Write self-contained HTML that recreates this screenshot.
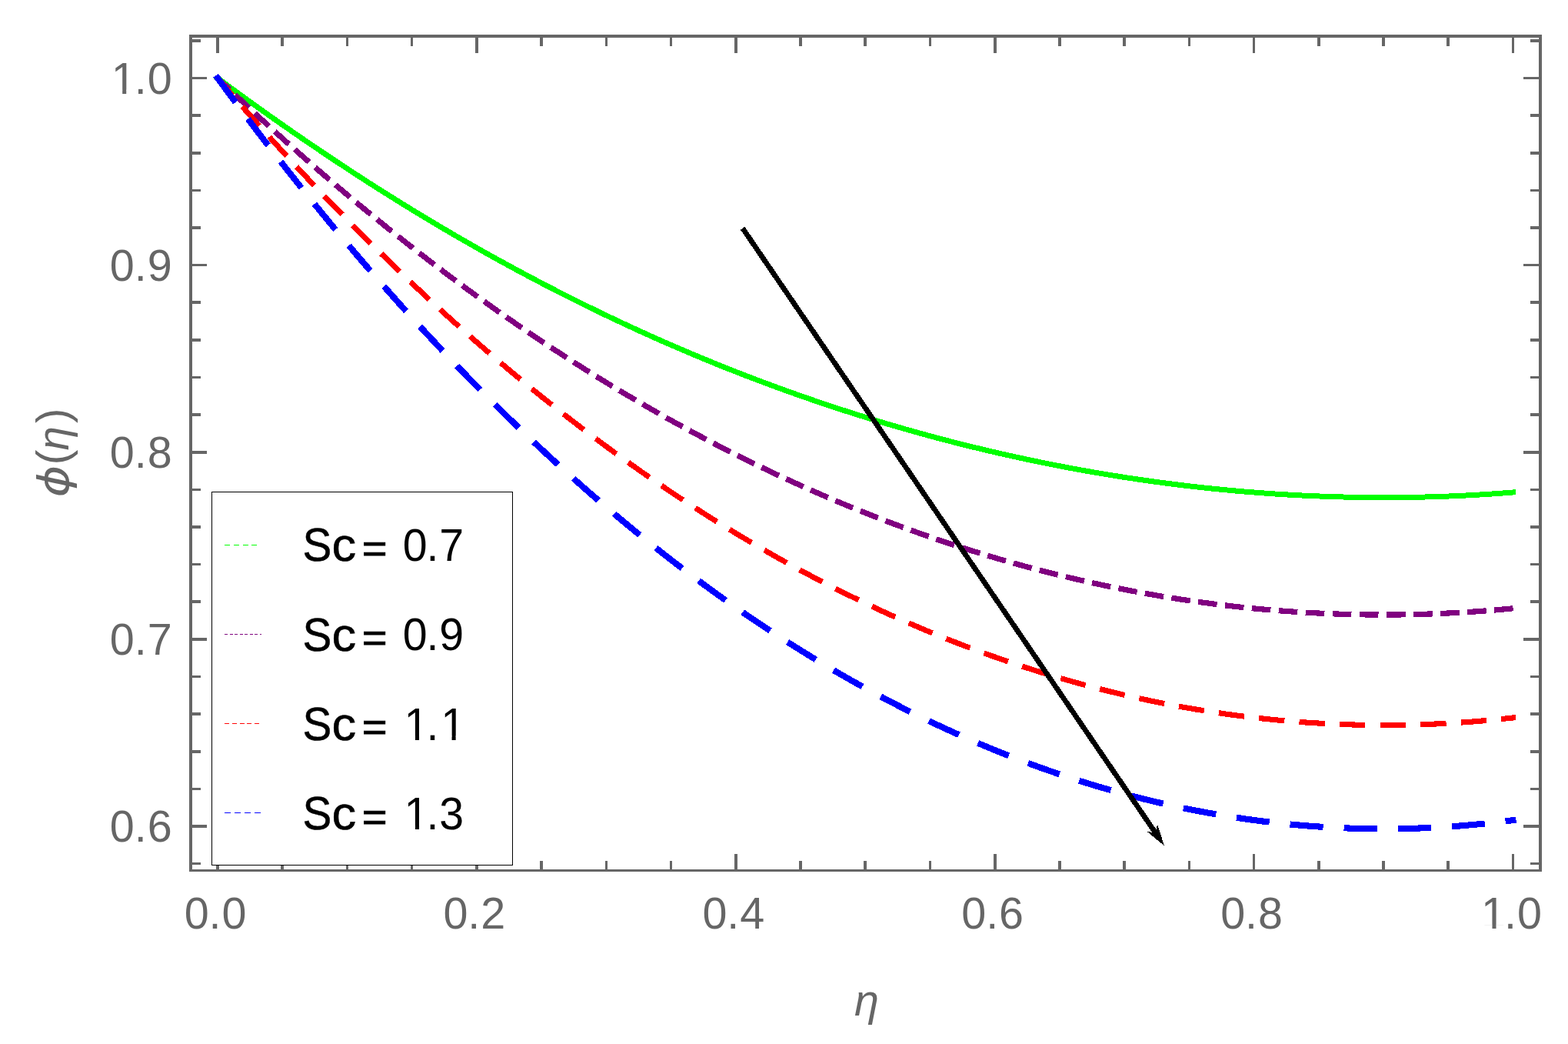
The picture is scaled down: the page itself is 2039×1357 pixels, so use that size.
<!DOCTYPE html>
<html lang="en"><head><meta charset="utf-8"><title>Concentration profile for Schmidt number</title>
<style>html,body{margin:0;padding:0;background:#fff;overflow:hidden}svg{display:block}text{font-family:"Liberation Sans",sans-serif}.t{fill:#666666}.l{fill:#000}.i{font-style:italic}</style></head><body>
<svg width="2039" height="1357" viewBox="0 0 2039 1357" role="img" aria-label="Plot of concentration profile versus eta for Sc = 0.7, 0.9, 1.1, 1.3">
<rect width="2039" height="1357" fill="#fff"/>
<g shape-rendering="crispEdges">
<polyline points="283.00,101.50 287.21,104.62 291.42,107.72 295.63,110.82 299.85,113.91 304.06,116.99 308.27,120.07 312.48,123.13 316.69,126.19 320.90,129.23 325.11,132.27 329.32,135.30 333.53,138.32 337.75,141.33 341.96,144.33 346.17,147.32 350.38,150.31 354.59,153.28 358.80,156.25 363.01,159.21 367.23,162.15 371.44,165.09 375.65,168.02 379.86,170.94 384.07,173.85 388.28,176.76 392.49,179.65 396.70,182.54 400.92,185.41 405.13,188.28 409.34,191.13 413.55,193.98 417.76,196.82 421.97,199.65 426.18,202.47 430.39,205.28 434.61,208.08 438.82,210.87 443.03,213.66 447.24,216.43 451.45,219.20 455.66,221.95 459.87,224.70 464.08,227.43 468.29,230.16 472.51,232.88 476.72,235.59 480.93,238.29 485.14,240.98 489.35,243.66 493.56,246.33 497.77,248.99 501.99,251.64 506.20,254.29 510.41,256.92 514.62,259.55 518.83,262.16 523.04,264.77 527.25,267.36 531.46,269.95 535.67,272.53 539.89,275.10 544.10,277.65 548.31,280.20 552.52,282.74 556.73,285.27 560.94,287.80 565.15,290.31 569.37,292.81 573.58,295.30 577.79,297.79 582.00,300.26 586.21,302.72 590.42,305.18 594.63,307.63 598.84,310.06 603.06,312.49 607.27,314.91 611.48,317.31 615.69,319.71 619.90,322.10 624.11,324.48 628.32,326.85 632.53,329.21 636.75,331.57 640.96,333.91 645.17,336.24 649.38,338.56 653.59,340.88 657.80,343.18 662.01,345.48 666.22,347.76 670.43,350.04 674.65,352.31 678.86,354.57 683.07,356.81 687.28,359.05 691.49,361.28 695.70,363.50 699.91,365.71 704.12,367.92 708.34,370.11 712.55,372.29 716.76,374.47 720.97,376.63 725.18,378.79 729.39,380.93 733.60,383.07 737.82,385.20 742.03,387.31 746.24,389.42 750.45,391.52 754.66,393.61 758.87,395.69 763.08,397.76 767.29,399.83 771.50,401.88 775.72,403.92 779.93,405.96 784.14,407.98 788.35,410.00 792.56,412.01 796.77,414.01 800.98,415.99 805.20,417.97 809.41,419.94 813.62,421.91 817.83,423.86 822.04,425.80 826.25,427.74 830.46,429.66 834.67,431.58 838.88,433.48 843.10,435.38 847.31,437.27 851.52,439.15 855.73,441.02 859.94,442.88 864.15,444.73 868.36,446.58 872.58,448.41 876.79,450.23 881.00,452.05 885.21,453.86 889.42,455.66 893.63,457.45 897.84,459.23 902.05,461.00 906.26,462.76 910.48,464.51 914.69,466.26 918.90,467.99 923.11,469.72 927.32,471.44 931.53,473.15 935.74,474.84 939.96,476.54 944.17,478.22 948.38,479.89 952.59,481.56 956.80,483.21 961.01,484.86 965.22,486.50 969.43,488.13 973.65,489.75 977.86,491.36 982.07,492.96 986.28,494.55 990.49,496.14 994.70,497.72 998.91,499.28 1003.12,500.84 1007.34,502.39 1011.55,503.94 1015.76,505.47 1019.97,506.99 1024.18,508.51 1028.39,510.01 1032.60,511.51 1036.81,513.00 1041.03,514.48 1045.24,515.96 1049.45,517.42 1053.66,518.88 1057.87,520.32 1062.08,521.76 1066.29,523.19 1070.50,524.61 1074.72,526.02 1078.93,527.43 1083.14,528.82 1087.35,530.21 1091.56,531.59 1095.77,532.96 1099.98,534.32 1104.19,535.67 1108.40,537.01 1112.62,538.35 1116.83,539.68 1121.04,540.99 1125.25,542.30 1129.46,543.61 1133.67,544.90 1137.88,546.18 1142.10,547.46 1146.31,548.73 1150.52,549.99 1154.73,551.24 1158.94,552.48 1163.15,553.72 1167.36,554.94 1171.57,556.16 1175.79,557.37 1180.00,558.57 1184.21,559.77 1188.42,560.95 1192.63,562.13 1196.84,563.29 1201.05,564.45 1205.26,565.60 1209.47,566.75 1213.69,567.88 1217.90,569.01 1222.11,570.13 1226.32,571.24 1230.53,572.34 1234.74,573.43 1238.95,574.52 1243.16,575.59 1247.38,576.66 1251.59,577.72 1255.80,578.77 1260.01,579.82 1264.22,580.85 1268.43,581.88 1272.64,582.90 1276.86,583.91 1281.07,584.92 1285.28,585.91 1289.49,586.90 1293.70,587.88 1297.91,588.85 1302.12,589.81 1306.33,590.76 1310.55,591.71 1314.76,592.65 1318.97,593.58 1323.18,594.50 1327.39,595.41 1331.60,596.32 1335.81,597.21 1340.02,598.10 1344.23,598.98 1348.45,599.86 1352.66,600.72 1356.87,601.58 1361.08,602.43 1365.29,603.27 1369.50,604.10 1373.71,604.92 1377.92,605.74 1382.14,606.55 1386.35,607.35 1390.56,608.14 1394.77,608.93 1398.98,609.70 1403.19,610.47 1407.40,611.23 1411.62,611.98 1415.83,612.73 1420.04,613.46 1424.25,614.19 1428.46,614.91 1432.67,615.62 1436.88,616.32 1441.09,617.02 1445.31,617.71 1449.52,618.39 1453.73,619.06 1457.94,619.72 1462.15,620.38 1466.36,621.03 1470.57,621.66 1474.78,622.30 1478.99,622.92 1483.21,623.53 1487.42,624.14 1491.63,624.74 1495.84,625.33 1500.05,625.92 1504.26,626.49 1508.47,627.06 1512.68,627.62 1516.90,628.17 1521.11,628.71 1525.32,629.25 1529.53,629.77 1533.74,630.29 1537.95,630.80 1542.16,631.31 1546.38,631.80 1550.59,632.29 1554.80,632.77 1559.01,633.24 1563.22,633.70 1567.43,634.16 1571.64,634.60 1575.85,635.04 1580.07,635.47 1584.28,635.89 1588.49,636.31 1592.70,636.72 1596.91,637.11 1601.12,637.50 1605.33,637.89 1609.54,638.26 1613.76,638.63 1617.97,638.98 1622.18,639.33 1626.39,639.68 1630.60,640.01 1634.81,640.34 1639.02,640.65 1643.23,640.96 1647.45,641.26 1651.66,641.56 1655.87,641.84 1660.08,642.12 1664.29,642.39 1668.50,642.65 1672.71,642.90 1676.92,643.15 1681.14,643.38 1685.35,643.61 1689.56,643.83 1693.77,644.04 1697.98,644.25 1702.19,644.44 1706.40,644.63 1710.61,644.81 1714.83,644.98 1719.04,645.14 1723.25,645.30 1727.46,645.45 1731.67,645.58 1735.88,645.71 1740.09,645.84 1744.30,645.95 1748.52,646.06 1752.73,646.15 1756.94,646.24 1761.15,646.32 1765.36,646.39 1769.57,646.46 1773.78,646.51 1777.99,646.56 1782.20,646.60 1786.42,646.63 1790.63,646.65 1794.84,646.67 1799.05,646.67 1803.26,646.67 1807.47,646.66 1811.68,646.64 1815.89,646.62 1820.11,646.58 1824.32,646.54 1828.53,646.48 1832.74,646.42 1836.95,646.35 1841.16,646.27 1845.37,646.19 1849.59,646.09 1853.80,645.99 1858.01,645.88 1862.22,645.76 1866.43,645.63 1870.64,645.49 1874.85,645.35 1879.06,645.19 1883.28,645.03 1887.49,644.86 1891.70,644.68 1895.91,644.49 1900.12,644.30 1904.33,644.09 1908.54,643.88 1912.75,643.65 1916.96,643.42 1921.18,643.18 1925.39,642.94 1929.60,642.68 1933.81,642.41 1938.02,642.14 1942.23,641.86 1946.44,641.57 1950.65,641.27 1954.87,640.96 1959.08,640.64 1963.29,640.31 1967.50,639.98" fill="none" stroke="#00ff00" stroke-width="7.0" stroke-linecap="square" stroke-linejoin="round"/>
<polyline points="283.00,101.50 287.21,105.54 291.42,109.57 295.63,113.58 299.85,117.58 304.06,121.57 308.27,125.55 312.48,129.51 316.69,133.46 320.90,137.39 325.11,141.32 329.32,145.23 333.53,149.13 337.75,153.01 341.96,156.89 346.17,160.75 350.38,164.59 354.59,168.43 358.80,172.25 363.01,176.06 367.23,179.86 371.44,183.64 375.65,187.41 379.86,191.17 384.07,194.92 388.28,198.65 392.49,202.37 396.70,206.08 400.92,209.77 405.13,213.46 409.34,217.13 413.55,220.78 417.76,224.43 421.97,228.06 426.18,231.68 430.39,235.29 434.61,238.88 438.82,242.47 443.03,246.04 447.24,249.59 451.45,253.14 455.66,256.67 459.87,260.19 464.08,263.70 468.29,267.19 472.51,270.67 476.72,274.14 480.93,277.60 485.14,281.05 489.35,284.48 493.56,287.90 497.77,291.31 501.99,294.70 506.20,298.09 510.41,301.46 514.62,304.82 518.83,308.16 523.04,311.50 527.25,314.82 531.46,318.13 535.67,321.43 539.89,324.71 544.10,327.98 548.31,331.24 552.52,334.49 556.73,337.73 560.94,340.95 565.15,344.16 569.37,347.36 573.58,350.55 577.79,353.72 582.00,356.89 586.21,360.04 590.42,363.18 594.63,366.30 598.84,369.42 603.06,372.52 607.27,375.61 611.48,378.69 615.69,381.75 619.90,384.81 624.11,387.85 628.32,390.88 632.53,393.90 636.75,396.90 640.96,399.90 645.17,402.88 649.38,405.85 653.59,408.80 657.80,411.75 662.01,414.68 666.22,417.61 670.43,420.52 674.65,423.41 678.86,426.30 683.07,429.17 687.28,432.04 691.49,434.89 695.70,437.73 699.91,440.55 704.12,443.37 708.34,446.17 712.55,448.96 716.76,451.74 720.97,454.51 725.18,457.26 729.39,460.01 733.60,462.74 737.82,465.46 742.03,468.17 746.24,470.86 750.45,473.55 754.66,476.22 758.87,478.88 763.08,481.53 767.29,484.17 771.50,486.80 775.72,489.41 779.93,492.02 784.14,494.61 788.35,497.19 792.56,499.76 796.77,502.31 800.98,504.86 805.20,507.39 809.41,509.91 813.62,512.42 817.83,514.92 822.04,517.41 826.25,519.88 830.46,522.35 834.67,524.80 838.88,527.24 843.10,529.67 847.31,532.09 851.52,534.49 855.73,536.89 859.94,539.27 864.15,541.64 868.36,544.00 872.58,546.35 876.79,548.69 881.00,551.01 885.21,553.33 889.42,555.63 893.63,557.92 897.84,560.20 902.05,562.47 906.26,564.73 910.48,566.98 914.69,569.21 918.90,571.44 923.11,573.65 927.32,575.85 931.53,578.04 935.74,580.22 939.96,582.38 944.17,584.54 948.38,586.68 952.59,588.82 956.80,590.94 961.01,593.05 965.22,595.15 969.43,597.24 973.65,599.31 977.86,601.38 982.07,603.43 986.28,605.48 990.49,607.51 994.70,609.53 998.91,611.54 1003.12,613.54 1007.34,615.53 1011.55,617.50 1015.76,619.47 1019.97,621.42 1024.18,623.36 1028.39,625.30 1032.60,627.22 1036.81,629.13 1041.03,631.03 1045.24,632.91 1049.45,634.79 1053.66,636.65 1057.87,638.51 1062.08,640.35 1066.29,642.18 1070.50,644.01 1074.72,645.82 1078.93,647.62 1083.14,649.40 1087.35,651.18 1091.56,652.95 1095.77,654.70 1099.98,656.45 1104.19,658.18 1108.40,659.90 1112.62,661.61 1116.83,663.31 1121.04,665.00 1125.25,666.68 1129.46,668.35 1133.67,670.01 1137.88,671.65 1142.10,673.29 1146.31,674.91 1150.52,676.53 1154.73,678.13 1158.94,679.72 1163.15,681.30 1167.36,682.87 1171.57,684.43 1175.79,685.98 1180.00,687.52 1184.21,689.04 1188.42,690.56 1192.63,692.07 1196.84,693.56 1201.05,695.04 1205.26,696.52 1209.47,697.98 1213.69,699.43 1217.90,700.87 1222.11,702.30 1226.32,703.72 1230.53,705.13 1234.74,706.53 1238.95,707.91 1243.16,709.29 1247.38,710.66 1251.59,712.01 1255.80,713.35 1260.01,714.69 1264.22,716.01 1268.43,717.32 1272.64,718.62 1276.86,719.92 1281.07,721.20 1285.28,722.47 1289.49,723.72 1293.70,724.97 1297.91,726.21 1302.12,727.44 1306.33,728.65 1310.55,729.86 1314.76,731.06 1318.97,732.24 1323.18,733.42 1327.39,734.58 1331.60,735.73 1335.81,736.87 1340.02,738.01 1344.23,739.13 1348.45,740.24 1352.66,741.34 1356.87,742.43 1361.08,743.51 1365.29,744.58 1369.50,745.64 1373.71,746.68 1377.92,747.72 1382.14,748.75 1386.35,749.76 1390.56,750.77 1394.77,751.76 1398.98,752.75 1403.19,753.72 1407.40,754.69 1411.62,755.64 1415.83,756.58 1420.04,757.52 1424.25,758.44 1428.46,759.35 1432.67,760.25 1436.88,761.14 1441.09,762.02 1445.31,762.89 1449.52,763.75 1453.73,764.60 1457.94,765.44 1462.15,766.27 1466.36,767.09 1470.57,767.89 1474.78,768.69 1478.99,769.48 1483.21,770.25 1487.42,771.02 1491.63,771.77 1495.84,772.52 1500.05,773.25 1504.26,773.98 1508.47,774.69 1512.68,775.40 1516.90,776.09 1521.11,776.77 1525.32,777.44 1529.53,778.11 1533.74,778.76 1537.95,779.40 1542.16,780.03 1546.38,780.65 1550.59,781.26 1554.80,781.86 1559.01,782.45 1563.22,783.03 1567.43,783.60 1571.64,784.16 1575.85,784.71 1580.07,785.25 1584.28,785.78 1588.49,786.29 1592.70,786.80 1596.91,787.30 1601.12,787.79 1605.33,788.26 1609.54,788.73 1613.76,789.18 1617.97,789.63 1622.18,790.06 1626.39,790.49 1630.60,790.90 1634.81,791.31 1639.02,791.70 1643.23,792.09 1647.45,792.46 1651.66,792.82 1655.87,793.18 1660.08,793.52 1664.29,793.85 1668.50,794.17 1672.71,794.49 1676.92,794.79 1681.14,795.08 1685.35,795.36 1689.56,795.63 1693.77,795.89 1697.98,796.14 1702.19,796.38 1706.40,796.61 1710.61,796.83 1714.83,797.04 1719.04,797.24 1723.25,797.43 1727.46,797.61 1731.67,797.78 1735.88,797.93 1740.09,798.08 1744.30,798.22 1748.52,798.35 1752.73,798.46 1756.94,798.57 1761.15,798.67 1765.36,798.75 1769.57,798.83 1773.78,798.89 1777.99,798.95 1782.20,799.00 1786.42,799.03 1790.63,799.05 1794.84,799.07 1799.05,799.07 1803.26,799.07 1807.47,799.05 1811.68,799.02 1815.89,798.99 1820.11,798.94 1824.32,798.88 1828.53,798.81 1832.74,798.74 1836.95,798.65 1841.16,798.55 1845.37,798.44 1849.59,798.32 1853.80,798.19 1858.01,798.05 1862.22,797.90 1866.43,797.74 1870.64,797.57 1874.85,797.39 1879.06,797.20 1883.28,796.99 1887.49,796.78 1891.70,796.56 1895.91,796.33 1900.12,796.08 1904.33,795.83 1908.54,795.57 1912.75,795.29 1916.96,795.01 1921.18,794.71 1925.39,794.41 1929.60,794.09 1933.81,793.77 1938.02,793.43 1942.23,793.09 1946.44,792.73 1950.65,792.36 1954.87,791.98 1959.08,791.60 1963.29,791.20 1967.50,790.79" fill="none" stroke="#800080" stroke-width="7.2" stroke-linecap="square" stroke-linejoin="round" stroke-dasharray="17.54 17.54"/>
<polyline points="283.00,101.50 287.21,106.41 291.42,111.31 295.63,116.19 299.85,121.05 304.06,125.90 308.27,130.73 312.48,135.54 316.69,140.34 320.90,145.12 325.11,149.89 329.32,154.64 333.53,159.37 337.75,164.09 341.96,168.79 346.17,173.48 350.38,178.15 354.59,182.81 358.80,187.44 363.01,192.07 367.23,196.67 371.44,201.27 375.65,205.84 379.86,210.40 384.07,214.94 388.28,219.47 392.49,223.98 396.70,228.48 400.92,232.96 405.13,237.43 409.34,241.88 413.55,246.31 417.76,250.73 421.97,255.13 426.18,259.52 430.39,263.89 434.61,268.25 438.82,272.59 443.03,276.91 447.24,281.22 451.45,285.52 455.66,289.79 459.87,294.06 464.08,298.30 468.29,302.54 472.51,306.75 476.72,310.95 480.93,315.14 485.14,319.31 489.35,323.47 493.56,327.61 497.77,331.73 501.99,335.84 506.20,339.93 510.41,344.01 514.62,348.08 518.83,352.12 523.04,356.16 527.25,360.18 531.46,364.18 535.67,368.17 539.89,372.14 544.10,376.10 548.31,380.04 552.52,383.97 556.73,387.88 560.94,391.78 565.15,395.66 569.37,399.52 573.58,403.38 577.79,407.21 582.00,411.04 586.21,414.84 590.42,418.63 594.63,422.41 598.84,426.17 603.06,429.92 607.27,433.65 611.48,437.37 615.69,441.08 619.90,444.76 624.11,448.44 628.32,452.10 632.53,455.74 636.75,459.37 640.96,462.98 645.17,466.58 649.38,470.17 653.59,473.74 657.80,477.29 662.01,480.83 666.22,484.36 670.43,487.87 674.65,491.37 678.86,494.85 683.07,498.32 687.28,501.77 691.49,505.21 695.70,508.63 699.91,512.04 704.12,515.44 708.34,518.82 712.55,522.19 716.76,525.54 720.97,528.87 725.18,532.20 729.39,535.50 733.60,538.80 737.82,542.08 742.03,545.34 746.24,548.59 750.45,551.83 754.66,555.05 758.87,558.26 763.08,561.45 767.29,564.63 771.50,567.80 775.72,570.95 779.93,574.08 784.14,577.21 788.35,580.32 792.56,583.41 796.77,586.49 800.98,589.55 805.20,592.61 809.41,595.64 813.62,598.67 817.83,601.67 822.04,604.67 826.25,607.65 830.46,610.62 834.67,613.57 838.88,616.51 843.10,619.43 847.31,622.34 851.52,625.24 855.73,628.12 859.94,630.99 864.15,633.84 868.36,636.69 872.58,639.51 876.79,642.32 881.00,645.12 885.21,647.91 889.42,650.68 893.63,653.44 897.84,656.18 902.05,658.91 906.26,661.63 910.48,664.33 914.69,667.02 918.90,669.69 923.11,672.35 927.32,675.00 931.53,677.63 935.74,680.25 939.96,682.86 944.17,685.45 948.38,688.03 952.59,690.59 956.80,693.14 961.01,695.68 965.22,698.20 969.43,700.71 973.65,703.21 977.86,705.69 982.07,708.16 986.28,710.61 990.49,713.06 994.70,715.49 998.91,717.90 1003.12,720.30 1007.34,722.69 1011.55,725.06 1015.76,727.42 1019.97,729.77 1024.18,732.11 1028.39,734.43 1032.60,736.73 1036.81,739.03 1041.03,741.31 1045.24,743.57 1049.45,745.83 1053.66,748.07 1057.87,750.29 1062.08,752.51 1066.29,754.70 1070.50,756.89 1074.72,759.06 1078.93,761.22 1083.14,763.37 1087.35,765.50 1091.56,767.62 1095.77,769.73 1099.98,771.82 1104.19,773.90 1108.40,775.97 1112.62,778.02 1116.83,780.06 1121.04,782.09 1125.25,784.11 1129.46,786.11 1133.67,788.09 1137.88,790.07 1142.10,792.03 1146.31,793.98 1150.52,795.91 1154.73,797.83 1158.94,799.74 1163.15,801.64 1167.36,803.52 1171.57,805.39 1175.79,807.25 1180.00,809.09 1184.21,810.92 1188.42,812.74 1192.63,814.54 1196.84,816.33 1201.05,818.11 1205.26,819.88 1209.47,821.63 1213.69,823.37 1217.90,825.10 1222.11,826.81 1226.32,828.51 1230.53,830.20 1234.74,831.87 1238.95,833.53 1243.16,835.18 1247.38,836.82 1251.59,838.44 1255.80,840.05 1260.01,841.65 1264.22,843.23 1268.43,844.80 1272.64,846.36 1276.86,847.91 1281.07,849.44 1285.28,850.96 1289.49,852.47 1293.70,853.96 1297.91,855.44 1302.12,856.91 1306.33,858.37 1310.55,859.81 1314.76,861.24 1318.97,862.66 1323.18,864.07 1327.39,865.46 1331.60,866.84 1335.81,868.20 1340.02,869.56 1344.23,870.90 1348.45,872.23 1352.66,873.54 1356.87,874.85 1361.08,876.14 1365.29,877.42 1369.50,878.68 1373.71,879.94 1377.92,881.18 1382.14,882.40 1386.35,883.62 1390.56,884.82 1394.77,886.01 1398.98,887.19 1403.19,888.35 1407.40,889.50 1411.62,890.64 1415.83,891.77 1420.04,892.89 1424.25,893.99 1428.46,895.08 1432.67,896.15 1436.88,897.22 1441.09,898.27 1445.31,899.31 1449.52,900.33 1453.73,901.35 1457.94,902.35 1462.15,903.34 1466.36,904.32 1470.57,905.28 1474.78,906.23 1478.99,907.17 1483.21,908.10 1487.42,909.01 1491.63,909.91 1495.84,910.80 1500.05,911.68 1504.26,912.55 1508.47,913.40 1512.68,914.24 1516.90,915.07 1521.11,915.88 1525.32,916.68 1529.53,917.47 1533.74,918.25 1537.95,919.02 1542.16,919.77 1546.38,920.51 1550.59,921.24 1554.80,921.96 1559.01,922.66 1563.22,923.35 1567.43,924.03 1571.64,924.70 1575.85,925.35 1580.07,925.99 1584.28,926.62 1588.49,927.24 1592.70,927.85 1596.91,928.44 1601.12,929.02 1605.33,929.59 1609.54,930.14 1613.76,930.69 1617.97,931.22 1622.18,931.74 1626.39,932.25 1630.60,932.74 1634.81,933.22 1639.02,933.69 1643.23,934.15 1647.45,934.60 1651.66,935.03 1655.87,935.45 1660.08,935.86 1664.29,936.26 1668.50,936.64 1672.71,937.02 1676.92,937.38 1681.14,937.72 1685.35,938.06 1689.56,938.38 1693.77,938.70 1697.98,939.00 1702.19,939.28 1706.40,939.56 1710.61,939.82 1714.83,940.07 1719.04,940.31 1723.25,940.54 1727.46,940.75 1731.67,940.95 1735.88,941.14 1740.09,941.32 1744.30,941.49 1748.52,941.64 1752.73,941.78 1756.94,941.91 1761.15,942.03 1765.36,942.13 1769.57,942.22 1773.78,942.30 1777.99,942.37 1782.20,942.43 1786.42,942.47 1790.63,942.50 1794.84,942.52 1799.05,942.53 1803.26,942.53 1807.47,942.51 1811.68,942.48 1815.89,942.44 1820.11,942.39 1824.32,942.33 1828.53,942.25 1832.74,942.16 1836.95,942.06 1841.16,941.95 1845.37,941.82 1849.59,941.68 1853.80,941.53 1858.01,941.37 1862.22,941.20 1866.43,941.01 1870.64,940.82 1874.85,940.61 1879.06,940.38 1883.28,940.15 1887.49,939.90 1891.70,939.65 1895.91,939.38 1900.12,939.09 1904.33,938.80 1908.54,938.49 1912.75,938.17 1916.96,937.84 1921.18,937.50 1925.39,937.15 1929.60,936.78 1933.81,936.40 1938.02,936.01 1942.23,935.61 1946.44,935.19 1950.65,934.76 1954.87,934.33 1959.08,933.87 1963.29,933.41 1967.50,932.94" fill="none" stroke="#ff0000" stroke-width="7.1" stroke-linecap="square" stroke-linejoin="round" stroke-dasharray="26.31 26.31"/>
<polyline points="283.00,101.50 287.21,107.25 291.42,112.98 295.63,118.69 299.85,124.39 304.06,130.06 308.27,135.71 312.48,141.35 316.69,146.96 320.90,152.56 325.11,158.13 329.32,163.69 333.53,169.23 337.75,174.74 341.96,180.24 346.17,185.72 350.38,191.18 354.59,196.62 358.80,202.05 363.01,207.45 367.23,212.83 371.44,218.20 375.65,223.54 379.86,228.87 384.07,234.18 388.28,239.47 392.49,244.74 396.70,249.99 400.92,255.22 405.13,260.44 409.34,265.63 413.55,270.81 417.76,275.96 421.97,281.10 426.18,286.22 430.39,291.32 434.61,296.40 438.82,301.47 443.03,306.51 447.24,311.54 451.45,316.55 455.66,321.54 459.87,326.51 464.08,331.46 468.29,336.39 472.51,341.31 476.72,346.21 480.93,351.08 485.14,355.94 489.35,360.79 493.56,365.61 497.77,370.42 501.99,375.20 506.20,379.97 510.41,384.72 514.62,389.45 518.83,394.17 523.04,398.86 527.25,403.54 531.46,408.20 535.67,412.84 539.89,417.47 544.10,422.07 548.31,426.66 552.52,431.23 556.73,435.78 560.94,440.31 565.15,444.83 569.37,449.33 573.58,453.81 577.79,458.27 582.00,462.71 586.21,467.14 590.42,471.55 594.63,475.94 598.84,480.31 603.06,484.67 607.27,489.00 611.48,493.32 615.69,497.63 619.90,501.91 624.11,506.18 628.32,510.43 632.53,514.66 636.75,518.88 640.96,523.07 645.17,527.25 649.38,531.41 653.59,535.56 657.80,539.69 662.01,543.80 666.22,547.89 670.43,551.96 674.65,556.02 678.86,560.06 683.07,564.09 687.28,568.09 691.49,572.08 695.70,576.05 699.91,580.01 704.12,583.94 708.34,587.86 712.55,591.77 716.76,595.65 720.97,599.52 725.18,603.37 729.39,607.21 733.60,611.03 737.82,614.83 742.03,618.61 746.24,622.38 750.45,626.13 754.66,629.86 758.87,633.58 763.08,637.27 767.29,640.96 771.50,644.62 775.72,648.27 779.93,651.90 784.14,655.52 788.35,659.12 792.56,662.70 796.77,666.26 800.98,669.81 805.20,673.34 809.41,676.86 813.62,680.36 817.83,683.84 822.04,687.31 826.25,690.75 830.46,694.19 834.67,697.60 838.88,701.00 843.10,704.38 847.31,707.75 851.52,711.10 855.73,714.43 859.94,717.75 864.15,721.05 868.36,724.34 872.58,727.60 876.79,730.86 881.00,734.09 885.21,737.31 889.42,740.51 893.63,743.70 897.84,746.87 902.05,750.03 906.26,753.16 910.48,756.29 914.69,759.39 918.90,762.48 923.11,765.56 927.32,768.61 931.53,771.66 935.74,774.68 939.96,777.69 944.17,780.68 948.38,783.66 952.59,786.62 956.80,789.57 961.01,792.50 965.22,795.41 969.43,798.31 973.65,801.19 977.86,804.06 982.07,806.91 986.28,809.74 990.49,812.56 994.70,815.37 998.91,818.15 1003.12,820.92 1007.34,823.68 1011.55,826.42 1015.76,829.14 1019.97,831.85 1024.18,834.55 1028.39,837.22 1032.60,839.89 1036.81,842.53 1041.03,845.16 1045.24,847.78 1049.45,850.38 1053.66,852.96 1057.87,855.53 1062.08,858.08 1066.29,860.62 1070.50,863.14 1074.72,865.65 1078.93,868.14 1083.14,870.61 1087.35,873.07 1091.56,875.52 1095.77,877.95 1099.98,880.36 1104.19,882.76 1108.40,885.14 1112.62,887.51 1116.83,889.86 1121.04,892.20 1125.25,894.52 1129.46,896.83 1133.67,899.12 1137.88,901.40 1142.10,903.66 1146.31,905.91 1150.52,908.14 1154.73,910.35 1158.94,912.55 1163.15,914.74 1167.36,916.91 1171.57,919.06 1175.79,921.20 1180.00,923.33 1184.21,925.44 1188.42,927.53 1192.63,929.61 1196.84,931.68 1201.05,933.73 1205.26,935.76 1209.47,937.78 1213.69,939.79 1217.90,941.78 1222.11,943.75 1226.32,945.71 1230.53,947.66 1234.74,949.59 1238.95,951.50 1243.16,953.40 1247.38,955.29 1251.59,957.16 1255.80,959.02 1260.01,960.86 1264.22,962.68 1268.43,964.50 1272.64,966.29 1276.86,968.07 1281.07,969.84 1285.28,971.59 1289.49,973.33 1293.70,975.05 1297.91,976.76 1302.12,978.46 1306.33,980.13 1310.55,981.80 1314.76,983.45 1318.97,985.08 1323.18,986.70 1327.39,988.31 1331.60,989.90 1335.81,991.48 1340.02,993.04 1344.23,994.58 1348.45,996.12 1352.66,997.63 1356.87,999.14 1361.08,1000.63 1365.29,1002.10 1369.50,1003.56 1373.71,1005.01 1377.92,1006.44 1382.14,1007.85 1386.35,1009.25 1390.56,1010.64 1394.77,1012.01 1398.98,1013.37 1403.19,1014.72 1407.40,1016.04 1411.62,1017.36 1415.83,1018.66 1420.04,1019.95 1424.25,1021.22 1428.46,1022.47 1432.67,1023.72 1436.88,1024.95 1441.09,1026.16 1445.31,1027.36 1449.52,1028.54 1453.73,1029.72 1457.94,1030.87 1462.15,1032.01 1466.36,1033.14 1470.57,1034.25 1474.78,1035.35 1478.99,1036.44 1483.21,1037.51 1487.42,1038.57 1491.63,1039.61 1495.84,1040.64 1500.05,1041.65 1504.26,1042.65 1508.47,1043.63 1512.68,1044.60 1516.90,1045.56 1521.11,1046.50 1525.32,1047.43 1529.53,1048.34 1533.74,1049.24 1537.95,1050.13 1542.16,1051.00 1546.38,1051.85 1550.59,1052.70 1554.80,1053.53 1559.01,1054.34 1563.22,1055.14 1567.43,1055.92 1571.64,1056.70 1575.85,1057.45 1580.07,1058.20 1584.28,1058.93 1588.49,1059.64 1592.70,1060.34 1596.91,1061.03 1601.12,1061.70 1605.33,1062.36 1609.54,1063.00 1613.76,1063.63 1617.97,1064.25 1622.18,1064.85 1626.39,1065.44 1630.60,1066.01 1634.81,1066.57 1639.02,1067.11 1643.23,1067.64 1647.45,1068.16 1651.66,1068.66 1655.87,1069.15 1660.08,1069.63 1664.29,1070.09 1668.50,1070.53 1672.71,1070.96 1676.92,1071.38 1681.14,1071.79 1685.35,1072.17 1689.56,1072.55 1693.77,1072.91 1697.98,1073.26 1702.19,1073.59 1706.40,1073.91 1710.61,1074.22 1714.83,1074.51 1719.04,1074.78 1723.25,1075.05 1727.46,1075.29 1731.67,1075.53 1735.88,1075.75 1740.09,1075.96 1744.30,1076.15 1748.52,1076.33 1752.73,1076.49 1756.94,1076.64 1761.15,1076.78 1765.36,1076.90 1769.57,1077.00 1773.78,1077.10 1777.99,1077.18 1782.20,1077.24 1786.42,1077.29 1790.63,1077.33 1794.84,1077.35 1799.05,1077.36 1803.26,1077.36 1807.47,1077.34 1811.68,1077.30 1815.89,1077.25 1820.11,1077.19 1824.32,1077.12 1828.53,1077.03 1832.74,1076.92 1836.95,1076.80 1841.16,1076.67 1845.37,1076.52 1849.59,1076.36 1853.80,1076.19 1858.01,1076.00 1862.22,1075.79 1866.43,1075.58 1870.64,1075.34 1874.85,1075.10 1879.06,1074.84 1883.28,1074.56 1887.49,1074.27 1891.70,1073.97 1895.91,1073.65 1900.12,1073.32 1904.33,1072.98 1908.54,1072.62 1912.75,1072.24 1916.96,1071.85 1921.18,1071.45 1925.39,1071.03 1929.60,1070.60 1933.81,1070.16 1938.02,1069.70 1942.23,1069.22 1946.44,1068.74 1950.65,1068.23 1954.87,1067.72 1959.08,1067.18 1963.29,1066.64 1967.50,1066.08" fill="none" stroke="#0000ff" stroke-width="8.1" stroke-linecap="square" stroke-linejoin="round" stroke-dasharray="35.08 35.08"/>
</g>
<g shape-rendering="crispEdges"><line x1="965.70" y1="296.70" x2="1502.25" y2="1082.06" stroke="#000" stroke-width="6.8"/>
<polygon points="1514.10,1099.40 1491.98,1081.21 1502.25,1082.06 1505.19,1072.18" fill="#000"/></g>
<g fill="#666666" shape-rendering="crispEdges">
<rect x="246" y="45" width="1759" height="4"/>
<rect x="246" y="1130" width="1759" height="3"/>
<rect x="246" y="45" width="4" height="1088"/>
<rect x="2001" y="45" width="4" height="1088"/>
<rect x="281.20" y="49" width="3.6" height="20"/>
<rect x="281.20" y="1110" width="3.6" height="20"/>
<rect x="365.43" y="49" width="3.6" height="11"/>
<rect x="365.43" y="1119" width="3.6" height="11"/>
<rect x="449.65" y="49" width="3.6" height="11"/>
<rect x="449.65" y="1119" width="3.6" height="11"/>
<rect x="533.88" y="49" width="3.6" height="11"/>
<rect x="533.88" y="1119" width="3.6" height="11"/>
<rect x="618.10" y="49" width="3.6" height="20"/>
<rect x="618.10" y="1110" width="3.6" height="20"/>
<rect x="702.33" y="49" width="3.6" height="11"/>
<rect x="702.33" y="1119" width="3.6" height="11"/>
<rect x="786.55" y="49" width="3.6" height="11"/>
<rect x="786.55" y="1119" width="3.6" height="11"/>
<rect x="870.78" y="49" width="3.6" height="11"/>
<rect x="870.78" y="1119" width="3.6" height="11"/>
<rect x="955.00" y="49" width="3.6" height="20"/>
<rect x="955.00" y="1110" width="3.6" height="20"/>
<rect x="1039.23" y="49" width="3.6" height="11"/>
<rect x="1039.23" y="1119" width="3.6" height="11"/>
<rect x="1123.45" y="49" width="3.6" height="11"/>
<rect x="1123.45" y="1119" width="3.6" height="11"/>
<rect x="1207.67" y="49" width="3.6" height="11"/>
<rect x="1207.67" y="1119" width="3.6" height="11"/>
<rect x="1291.90" y="49" width="3.6" height="20"/>
<rect x="1291.90" y="1110" width="3.6" height="20"/>
<rect x="1376.12" y="49" width="3.6" height="11"/>
<rect x="1376.12" y="1119" width="3.6" height="11"/>
<rect x="1460.35" y="49" width="3.6" height="11"/>
<rect x="1460.35" y="1119" width="3.6" height="11"/>
<rect x="1544.58" y="49" width="3.6" height="11"/>
<rect x="1544.58" y="1119" width="3.6" height="11"/>
<rect x="1628.80" y="49" width="3.6" height="20"/>
<rect x="1628.80" y="1110" width="3.6" height="20"/>
<rect x="1713.03" y="49" width="3.6" height="11"/>
<rect x="1713.03" y="1119" width="3.6" height="11"/>
<rect x="1797.25" y="49" width="3.6" height="11"/>
<rect x="1797.25" y="1119" width="3.6" height="11"/>
<rect x="1881.48" y="49" width="3.6" height="11"/>
<rect x="1881.48" y="1119" width="3.6" height="11"/>
<rect x="1965.70" y="49" width="3.6" height="20"/>
<rect x="1965.70" y="1110" width="3.6" height="20"/>
<rect x="250" y="1120.83" width="11" height="3.6"/>
<rect x="1990" y="1120.83" width="11" height="3.6"/>
<rect x="250" y="1072.20" width="19" height="3.6"/>
<rect x="1981" y="1072.20" width="20" height="3.6"/>
<rect x="250" y="1023.58" width="11" height="3.6"/>
<rect x="1990" y="1023.58" width="11" height="3.6"/>
<rect x="250" y="974.95" width="11" height="3.6"/>
<rect x="1990" y="974.95" width="11" height="3.6"/>
<rect x="250" y="926.32" width="11" height="3.6"/>
<rect x="1990" y="926.32" width="11" height="3.6"/>
<rect x="250" y="877.70" width="11" height="3.6"/>
<rect x="1990" y="877.70" width="11" height="3.6"/>
<rect x="250" y="829.07" width="19" height="3.6"/>
<rect x="1981" y="829.07" width="20" height="3.6"/>
<rect x="250" y="780.45" width="11" height="3.6"/>
<rect x="1990" y="780.45" width="11" height="3.6"/>
<rect x="250" y="731.83" width="11" height="3.6"/>
<rect x="1990" y="731.83" width="11" height="3.6"/>
<rect x="250" y="683.20" width="11" height="3.6"/>
<rect x="1990" y="683.20" width="11" height="3.6"/>
<rect x="250" y="634.57" width="11" height="3.6"/>
<rect x="1990" y="634.57" width="11" height="3.6"/>
<rect x="250" y="585.95" width="19" height="3.6"/>
<rect x="1981" y="585.95" width="20" height="3.6"/>
<rect x="250" y="537.32" width="11" height="3.6"/>
<rect x="1990" y="537.32" width="11" height="3.6"/>
<rect x="250" y="488.70" width="11" height="3.6"/>
<rect x="1990" y="488.70" width="11" height="3.6"/>
<rect x="250" y="440.08" width="11" height="3.6"/>
<rect x="1990" y="440.08" width="11" height="3.6"/>
<rect x="250" y="391.45" width="11" height="3.6"/>
<rect x="1990" y="391.45" width="11" height="3.6"/>
<rect x="250" y="342.82" width="19" height="3.6"/>
<rect x="1981" y="342.82" width="20" height="3.6"/>
<rect x="250" y="294.20" width="11" height="3.6"/>
<rect x="1990" y="294.20" width="11" height="3.6"/>
<rect x="250" y="245.57" width="11" height="3.6"/>
<rect x="1990" y="245.57" width="11" height="3.6"/>
<rect x="250" y="196.95" width="11" height="3.6"/>
<rect x="1990" y="196.95" width="11" height="3.6"/>
<rect x="250" y="148.33" width="11" height="3.6"/>
<rect x="1990" y="148.33" width="11" height="3.6"/>
<rect x="250" y="99.70" width="19" height="3.6"/>
<rect x="1981" y="99.70" width="20" height="3.6"/>
<rect x="250" y="51.07" width="11" height="3.6"/>
<rect x="1990" y="51.07" width="11" height="3.6"/>
</g>
<g shape-rendering="crispEdges"><rect x="275.5" y="639.5" width="391" height="485" fill="#fff" stroke="#000" stroke-width="1"/>
<rect x="292" y="708" width="7" height="1" fill="#00ff00"/>
<rect x="304" y="708" width="7" height="1" fill="#00ff00"/>
<rect x="316" y="708" width="7" height="1" fill="#00ff00"/>
<rect x="327" y="708" width="7" height="1" fill="#00ff00"/>
<rect x="292" y="824" width="4" height="1" fill="#800080"/>
<rect x="299" y="824" width="4" height="1" fill="#800080"/>
<rect x="305" y="824" width="4" height="1" fill="#800080"/>
<rect x="312" y="824" width="4" height="1" fill="#800080"/>
<rect x="318" y="824" width="4" height="1" fill="#800080"/>
<rect x="325" y="824" width="4" height="1" fill="#800080"/>
<rect x="331" y="824" width="4" height="1" fill="#800080"/>
<rect x="338" y="824" width="2" height="1" fill="#800080"/>
<rect x="292" y="940" width="6" height="1" fill="#ff0000"/>
<rect x="302" y="940" width="6" height="1" fill="#ff0000"/>
<rect x="312" y="940" width="6" height="1" fill="#ff0000"/>
<rect x="321" y="940" width="6" height="1" fill="#ff0000"/>
<rect x="331" y="940" width="6" height="1" fill="#ff0000"/>
<rect x="292" y="1056" width="8" height="1" fill="#0000ff"/>
<rect x="305" y="1056" width="8" height="1" fill="#0000ff"/>
<rect x="318" y="1056" width="8" height="1" fill="#0000ff"/>
<rect x="331" y="1056" width="8" height="1" fill="#0000ff"/>
</g>
<text class="l" transform="matrix(1 0 0 1.02 0 728.95)"><tspan font-size="60.5" x="393.57" y="0.45" textLength="37.85" lengthAdjust="spacingAndGlyphs" stroke="#000" stroke-width="0.5">S</tspan><tspan font-size="60" x="431.54" y="0.45" textLength="31.62" lengthAdjust="spacingAndGlyphs" stroke="#000" stroke-width="0.5">c</tspan><tspan font-size="50" x="470.9" y="1.75" textLength="32.32" lengthAdjust="spacingAndGlyphs" stroke="#000" stroke-width="1.1">=</tspan><tspan font-size="57.3" x="508.00 523.66 554.57 571.26" y="0"> 0.7</tspan></text>
<text class="l" transform="matrix(1 0 0 1.02 0 845.30)"><tspan font-size="60.5" x="393.57" y="0.45" textLength="37.85" lengthAdjust="spacingAndGlyphs" stroke="#000" stroke-width="0.5">S</tspan><tspan font-size="60" x="431.54" y="0.45" textLength="31.62" lengthAdjust="spacingAndGlyphs" stroke="#000" stroke-width="0.5">c</tspan><tspan font-size="50" x="470.9" y="1.75" textLength="32.32" lengthAdjust="spacingAndGlyphs" stroke="#000" stroke-width="1.1">=</tspan><tspan font-size="57.3" x="508.00 523.66 554.57 571.26" y="0"> 0.9</tspan></text>
<text class="l" transform="matrix(1 0 0 1.02 0 961.65)"><tspan font-size="60.5" x="393.57" y="0.45" textLength="37.85" lengthAdjust="spacingAndGlyphs" stroke="#000" stroke-width="0.5">S</tspan><tspan font-size="60" x="431.54" y="0.45" textLength="31.62" lengthAdjust="spacingAndGlyphs" stroke="#000" stroke-width="0.5">c</tspan><tspan font-size="50" x="470.9" y="1.75" textLength="32.32" lengthAdjust="spacingAndGlyphs" stroke="#000" stroke-width="1.1">=</tspan><tspan font-size="57.3" x="508.00 525.56 554.57 573.16" y="0"> 1.1</tspan></text>
<text class="l" transform="matrix(1 0 0 1.02 0 1078.00)"><tspan font-size="60.5" x="393.57" y="0.45" textLength="37.85" lengthAdjust="spacingAndGlyphs" stroke="#000" stroke-width="0.5">S</tspan><tspan font-size="60" x="431.54" y="0.45" textLength="31.62" lengthAdjust="spacingAndGlyphs" stroke="#000" stroke-width="0.5">c</tspan><tspan font-size="50" x="470.9" y="1.75" textLength="32.32" lengthAdjust="spacingAndGlyphs" stroke="#000" stroke-width="1.1">=</tspan><tspan font-size="57.3" x="508.00 525.56 554.57 571.26" y="0"> 1.3</tspan></text>
<text class="t" font-size="57.5" y="1207.4" x="239.66 271.47 288.41">0.0</text>
<text class="t" font-size="57.5" y="1207.4" x="576.56 608.37 625.31">0.2</text>
<text class="t" font-size="57.5" y="1207.4" x="913.46 945.27 962.21">0.4</text>
<text class="t" font-size="57.5" y="1207.4" x="1250.36 1282.17 1299.11">0.6</text>
<text class="t" font-size="57.5" y="1207.4" x="1587.26 1619.07 1636.01">0.8</text>
<text class="t" font-size="57.5" y="1207.4" x="1926.06 1955.97 1972.91">1.0</text>
<text class="t" font-size="57.5" y="1094.30" x="142.86 174.77 191.86">0.6</text>
<text class="t" font-size="57.5" y="851.17" x="142.86 174.77 191.86">0.7</text>
<text class="t" font-size="57.5" y="608.05" x="142.86 174.77 191.86">0.8</text>
<text class="t" font-size="57.5" y="364.92" x="142.86 174.77 191.86">0.9</text>
<text class="t" font-size="57.5" y="121.80" x="144.76 174.77 191.86">1.0</text>
<rect x="1929.43" y="1202.32" width="11.04" height="6.28" fill="#fff"/>
<rect x="1945.53" y="1202.32" width="10.60" height="6.28" fill="#fff"/>
<rect x="148.13" y="116.72" width="11.04" height="6.28" fill="#fff"/>
<rect x="164.23" y="116.72" width="10.60" height="6.28" fill="#fff"/>
<rect x="528.92" y="956.48" width="11.04" height="6.37" fill="#fff"/>
<rect x="545.03" y="956.48" width="10.60" height="6.37" fill="#fff"/>
<rect x="576.52" y="956.48" width="11.04" height="6.37" fill="#fff"/>
<rect x="592.63" y="956.48" width="10.60" height="6.37" fill="#fff"/>
<rect x="528.92" y="1072.83" width="11.04" height="6.37" fill="#fff"/>
<rect x="545.03" y="1072.83" width="10.60" height="6.37" fill="#fff"/>
<text class="t i" font-size="57.5" x="1111.0" y="1319.7">η</text>
<text class="t" transform="translate(89,650) rotate(-90)" y="0"><tspan font-family="DejaVu Sans, Liberation Sans, sans-serif" font-style="italic" font-size="55.4" x="3.42" textLength="41.92" lengthAdjust="spacingAndGlyphs">ϕ</tspan><tspan font-size="58.5" x="45.7">(</tspan><tspan font-style="italic" font-size="56.5" x="64.4">η</tspan><tspan font-size="58.5" x="99.95">)</tspan></text>
</svg></body></html>
